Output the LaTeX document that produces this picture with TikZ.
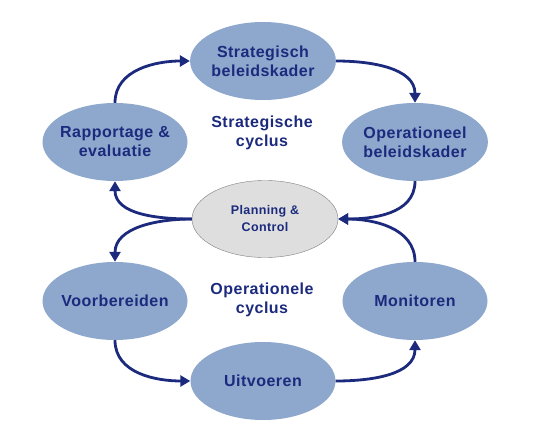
\documentclass[tikz,border=0pt]{standalone}
\usepackage{fontspec}
\setmainfont{Liberation Sans}[LetterSpace=3]
\usetikzlibrary{arrows.meta,shapes.geometric}
\usetikzlibrary{positioning}
\definecolor{kader}{RGB}{141,167,205}
\definecolor{donker}{RGB}{28,42,125}
\definecolor{pcgrijs}{RGB}{222,222,222}
\tikzset{
    fase/.style={
      ellipse,
           fill=kader,
           text=donker,
           inner sep=0pt,
           align=center,
           minimum width=145pt,
           minimum height=78pt,
           font=\fontsize{16}{19}\selectfont\bfseries,
           },
}
\tikzset{
    kern/.style={
      ellipse,
           draw=gray, fill=pcgrijs,
           text=donker,
           inner sep=0pt,
           align=center,
           minimum width=146pt,
           minimum height=77pt,
           font=\fontsize{12.5}{17}\selectfont\bfseries,
           },
}
\tikzset{
    cyclus/.style={
           text=donker,
           align=center,
           font=\fontsize{16}{19}\selectfont\bfseries,
           },
}
\tikzset{
    pijl/.style={
           -{Triangle[length=10pt,width=11pt]},
           draw=donker,
           line width=2.8pt,
           },
}

\begin{document}
\begin{tikzpicture}[x=1pt,y=1pt]
\useasboundingbox (0,0) rectangle (547,-428);

\node[kern](pc) at (265,-219){Planning \&\\Control};

\node[fase](sb) at (263,-61){Strategisch\\beleidskader};
\node[fase,inner xsep=-6pt](rap) at (115,-142){Rapportage \&\\evaluatie};
\node[fase](ob) at (415,-142){Operationeel\\beleidskader};
\node[cyclus](sc) at (262,-133){Strategische\\cyclus};

\node[fase,inner xsep=-7pt](vb) at (115,-301){Voorbereiden};
\node[fase](mon) at (415,-301){Monitoren};
\node[fase](uv) at (263,-381){Uitvoeren};
\node[cyclus](oc) at (262,-300){Operationele\\cyclus};

% strategische cyclus
\path (rap.north) edge[pijl,out=90,in=180](sb.west);
\path (sb.east) edge[pijl,out=0,in=90](ob.north);
\path (ob.south) edge[pijl,out=-90,in=0](pc.east);
\path (pc.west) edge[pijl,out=180,in=-90](rap.south);

% operationele cyclus
\path (pc.west) edge[pijl,out=180,in=90](vb.north);
\path (vb.south) edge[pijl,out=-90,in=180](uv.west);
\path (uv.east) edge[pijl,out=0,in=-90](mon.south);
\path (mon.north) edge[pijl,out=90,in=0](pc.east);

\end{tikzpicture}
\end{document}
